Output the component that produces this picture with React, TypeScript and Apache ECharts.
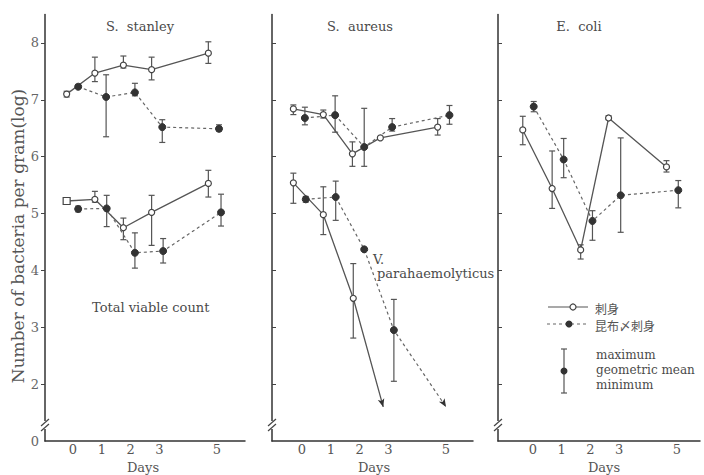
import React, { useEffect, useRef } from "react";
import * as echarts from "echarts";

const panelTitles = ["S.  stanley", "S.  aureus", "E.  coli"];
const dayTicks = [0, 1, 2, 3, 5];
const logTicks = [1, 2, 3, 4, 5, 6, 7, 8];
const logTickText = ["0", "2", "3", "4", "5", "6", "7", "8"];
const detectionLimit = 1.6;

// rows: [day, geometric mean, minimum, maximum]
const stanleySashimi = [
  [-0.22, 7.1, 7.05, 7.15],
  [0.76, 7.47, 7.32, 7.75],
  [1.75, 7.61, 7.56, 7.77],
  [2.73, 7.53, 7.35, 7.75],
  [4.7, 7.82, 7.64, 8.02],
];
const stanleyKombu = [
  [0.18, 7.23, 7.2, 7.27],
  [1.15, 7.05, 6.35, 7.44],
  [2.15, 7.13, 7.07, 7.29],
  [3.1, 6.52, 6.25, 6.65],
  [5.07, 6.49, 6.45, 6.56],
];
const totalSashimi = [
  [-0.22, 5.22, null, null],
  [0.76, 5.25, 5.2, 5.39],
  [1.75, 4.75, 4.54, 4.92],
  [2.73, 5.02, 4.44, 5.32],
  [4.7, 5.53, 5.29, 5.76],
];
const totalKombu = [
  [0.18, 5.08, 5.03, 5.13],
  [1.17, 5.09, 4.77, 5.32],
  [2.15, 4.31, 4.04, 4.66],
  [3.13, 4.34, 4.13, 4.56],
  [5.14, 5.02, 4.78, 5.34],
];
const aureusSashimi = [
  [-0.3, 6.84, 6.74, 6.91],
  [0.74, 6.74, 6.68, 6.82],
  [1.75, 6.05, 5.83, 6.26],
  [2.72, 6.33, null, null],
  [4.71, 6.52, 6.38, 6.67],
];
const aureusKombu = [
  [0.1, 6.68, 6.56, 6.87],
  [1.15, 6.73, 6.43, 7.07],
  [2.16, 6.17, 5.83, 6.85],
  [3.13, 6.52, 6.45, 6.67],
  [5.12, 6.73, 6.57, 6.9],
];
const vibrioSashimi = [
  [-0.3, 5.54, 5.18, 5.71],
  [0.74, 4.98, 4.63, 5.47],
  [1.78, 3.51, 2.81, 4.12],
  [2.82, 1.6, null, null],
];
const vibrioKombu = [
  [0.13, 5.25, 5.2, 5.3],
  [1.17, 5.29, 4.88, 5.57],
  [2.16, 4.37, null, null],
  [3.19, 2.95, 2.05, 3.49],
  [5.0, 1.6, null, null],
];
const coliSashimi = [
  [-0.35, 6.47, 6.21, 6.71],
  [0.67, 5.44, 5.09, 6.1],
  [1.66, 4.36, 4.2, 4.45],
  [2.63, 6.68, 6.65, 6.72],
  [4.64, 5.82, 5.73, 5.93],
];
const coliKombu = [
  [0.03, 6.88, 6.79, 6.97],
  [1.07, 5.95, 5.63, 6.32],
  [2.07, 4.87, 4.53, 5.05],
  [3.05, 5.32, 4.67, 6.33],
  [5.05, 5.41, 5.1, 5.58],
];

const legendNames = ["刺身", "昆布〆刺身"];
const errorLegendText = ["maximum", "geometric mean", "minimum"];
const annotationTotal = "Total viable count";
const annotationVibrio = ["V.", "parahaemolyticus"];
const yAxisTitle = "Number of bacteria per gram(log)";
const xAxisTitle = "Days";

// layout
const GRID_TOP = 14.5;
const GRID_H = 426.5;
const panels = [
  { left: 45, width: 200, min: -0.972, daysX: 143 },
  { left: 272, width: 201, min: -1.042, daysX: 374 },
  { left: 498, width: 202, min: -1.21, daysX: 604 },
];
const PX_PER_DAY = 28.8;

const INK = "#4a4a4a";
const LINE = "#555";
const SERIF = "'DejaVu Serif', 'Liberation Serif', serif";
const CJK = "'Noto Sans CJK JP', sans-serif";

type Row = (number | null)[];

function lineSeries(rows: Row[], panel: number, kombu: boolean, firstSquare = false) {
  return {
    type: "line",
    xAxisIndex: panel,
    yAxisIndex: panel,
    z: 3,
    data: rows.map((r, i) => {
      const item: any = { value: [r[0], r[1]] };
      if ((r[1] as number) <= detectionLimit) {
        item.symbol = "arrow";
        item.symbolSize = [5, 8];
        item.symbolRotate = kombu ? 212 : 196;
        item.itemStyle = { color: "#333", borderWidth: 0 };
      } else if (firstSquare && i === 0) {
        item.symbol = "rect";
        item.symbolSize = 7;
      }
      return item;
    }),
    symbol: "circle",
    symbolSize: kombu ? 7 : 6,
    showAllSymbol: true,
    lineStyle: {
      color: kombu ? "#666" : LINE,
      width: kombu ? 1.2 : 1.3,
      type: kombu ? [3, 3] : "solid",
    },
    itemStyle: kombu
      ? { color: "#333", borderColor: "#333", borderWidth: 1 }
      : { color: "#fff", borderColor: "#444", borderWidth: 1.2 },
  };
}

function errorSeries(rows: Row[], panel: number) {
  return {
    type: "custom",
    xAxisIndex: panel,
    yAxisIndex: panel,
    z: 2,
    encode: { x: 0, y: [1, 2] },
    data: rows.filter((r) => r[2] != null && r[3] != null).map((r) => [r[0], r[2], r[3]]),
    renderItem: (_p: any, api: any) => {
      const lo = api.coord([api.value(0), api.value(1)]);
      const hi = api.coord([api.value(0), api.value(2)]);
      const w = 3;
      const st = { stroke: LINE, lineWidth: 1.2 };
      return {
        type: "group",
        children: [
          { type: "line", shape: { x1: lo[0], y1: lo[1], x2: hi[0], y2: hi[1] }, style: st },
          { type: "line", shape: { x1: lo[0] - w, y1: lo[1], x2: lo[0] + w, y2: lo[1] }, style: st },
          { type: "line", shape: { x1: hi[0] - w, y1: hi[1], x2: hi[0] + w, y2: hi[1] }, style: st },
        ],
      };
    },
  };
}

function breakMark(x: number) {
  return [
    { type: "rect", shape: { x: x - 2, y: 421, width: 4, height: 8 }, style: { fill: "#fff" }, z: 50 },
    { type: "line", shape: { x1: x - 4, y1: 426, x2: x + 4, y2: 419 }, style: { stroke: "#444", lineWidth: 1.2 }, z: 51 },
    { type: "line", shape: { x1: x - 4, y1: 431, x2: x + 4, y2: 424 }, style: { stroke: "#444", lineWidth: 1.2 }, z: 51 },
  ];
}

export default function App() {
  const ref = useRef<HTMLDivElement>(null);
  useEffect(() => {
    if (!ref.current) return;
    const chart = echarts.init(ref.current, undefined, { renderer: "svg" });
    const grids = panels.map((p) => ({
      left: p.left,
      top: GRID_TOP,
      width: p.width,
      height: GRID_H,
      containLabel: false,
      outerBoundsMode: "none",
    }));
    const xAxes = panels.map((p, i) => ({
      type: "value",
      gridIndex: i,
      min: p.min,
      max: p.min + p.width / PX_PER_DAY,
      splitLine: { show: false },
      axisLine: { show: true, onZero: false, lineStyle: { color: "#333", width: 1.5 } },
      axisTick: { show: false },
      axisLabel: {
        customValues: dayTicks,
        formatter: (v: number) => String(v),
        color: "#555",
        fontFamily: SERIF,
        fontSize: 13,
        margin: 2,
      },
    }));
    const yAxes = panels.map((_p, i) => ({
      type: "value",
      gridIndex: i,
      min: 1,
      max: 8.5,
      splitLine: { show: false },
      axisLine: { show: true, onZero: false, lineStyle: { color: "#333", width: 1.5 } },
      axisTick: {
        show: true,
        inside: i > 0,
        length: 4,
        customValues: logTicks.slice(1),
        lineStyle: { color: "#444" },
      },
      axisLabel: {
        show: i === 0,
        customValues: logTicks,
        formatter: (v: number) => logTickText[logTicks.indexOf(v)] ?? String(v),
        color: "#666",
        fontFamily: SERIF,
        fontSize: 13,
        margin: 6,
      },
    }));

    const groups: [Row[], number, boolean, boolean][] = [
      [stanleySashimi, 0, false, false],
      [stanleyKombu, 0, true, false],
      [totalSashimi, 0, false, true],
      [totalKombu, 0, true, false],
      [aureusSashimi, 1, false, false],
      [aureusKombu, 1, true, false],
      [vibrioSashimi, 1, false, false],
      [vibrioKombu, 1, true, false],
      [coliSashimi, 2, false, false],
      [coliKombu, 2, true, false],
    ];
    const series: any[] = [];
    groups.forEach(([rows, p, k, sq]) => {
      series.push(errorSeries(rows, p));
      series.push(lineSeries(rows, p, k, sq));
    });

    const txt = (x: number, y: number, text: string, extra: any = {}) => ({
      type: "text",
      x,
      y,
      z: 60,
      style: {
        text,
        fill: INK,
        font: `12px ${SERIF}`,
        align: "left",
        verticalAlign: "middle",
        ...extra,
      },
    });

    const titleCenters = [140, 360, 579];
    const graphic: any[] = [
      ...panelTitles.map((t, i) => txt(titleCenters[i], 26, t, { align: "center", font: `13px ${SERIF}` })),
      ...panels.map((p) =>
        txt(p.daysX, 474, xAxisTitle, { align: "center", verticalAlign: "bottom", font: `13px ${SERIF}`, fill: "#555" })
      ),
      {
        type: "text",
        x: 18,
        y: 236,
        rotation: Math.PI / 2,
        z: 60,
        style: {
          text: yAxisTitle,
          fill: "#555",
          font: `17px ${SERIF}`,
          align: "center",
          verticalAlign: "middle",
        },
      },
      txt(92, 307, annotationTotal, { font: `13px ${SERIF}` }),
      txt(373, 259, annotationVibrio[0], { font: `13px ${SERIF}` }),
      txt(377, 273, annotationVibrio[1], { font: `13px ${SERIF}` }),
      // legend
      { type: "line", shape: { x1: 548, y1: 307, x2: 588, y2: 307 }, style: { stroke: LINE, lineWidth: 1.2 }, z: 60 },
      { type: "circle", shape: { cx: 573, cy: 307, r: 3 }, style: { fill: "#fff", stroke: "#444", lineWidth: 1.2 }, z: 61 },
      txt(595, 308, legendNames[0], { font: `12px ${CJK}`, fill: "#555" }),
      { type: "line", shape: { x1: 547, y1: 324, x2: 589, y2: 324 }, style: { stroke: "#666", lineWidth: 1.2, lineDash: [3, 3] }, z: 60 },
      { type: "circle", shape: { cx: 569, cy: 324, r: 3.5 }, style: { fill: "#333" }, z: 61 },
      txt(595, 325, legendNames[1], { font: `12px ${CJK}`, fill: "#555" }),
      { type: "line", shape: { x1: 564, y1: 349, x2: 564, y2: 393 }, style: { stroke: LINE, lineWidth: 1.2 }, z: 60 },
      { type: "line", shape: { x1: 561, y1: 349, x2: 567, y2: 349 }, style: { stroke: LINE, lineWidth: 1.2 }, z: 60 },
      { type: "line", shape: { x1: 561, y1: 393, x2: 567, y2: 393 }, style: { stroke: LINE, lineWidth: 1.2 }, z: 60 },
      { type: "circle", shape: { cx: 564, cy: 371, r: 3.5 }, style: { fill: "#333" }, z: 61 },
      txt(596, 355, errorLegendText[0]),
      txt(596, 370, errorLegendText[1]),
      txt(596, 385, errorLegendText[2]),
      ...panels.flatMap((p) => breakMark(p.left)),
    ];

    chart.setOption({
      animation: false,
      backgroundColor: "#fff",
      grid: grids,
      xAxis: xAxes,
      yAxis: yAxes,
      series,
      graphic,
    });
    return () => chart.dispose();
  }, []);
  return (
    <div
      ref={ref}
      style={{ position: "fixed", left: 0, top: 0, width: 704, height: 475, background: "#fff" }}
    />
  );
}
